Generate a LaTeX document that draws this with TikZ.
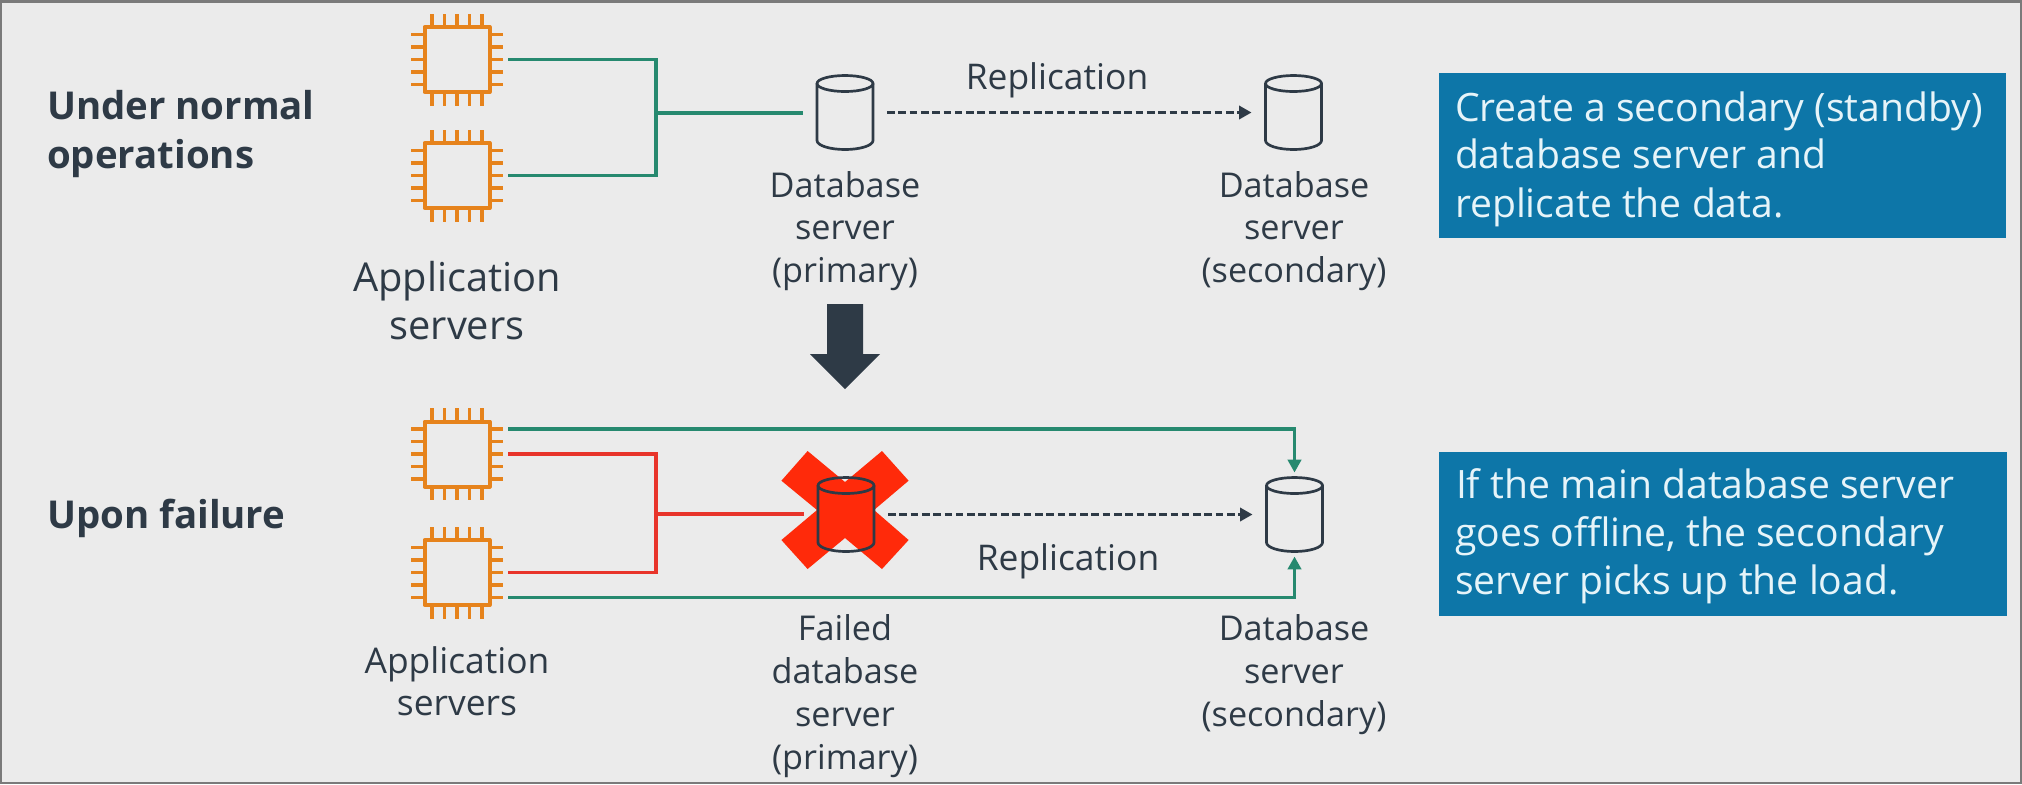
\documentclass[tikz,border=0pt]{standalone}
\usepackage{fontspec}
\setmainfont{Open Sans}
\usetikzlibrary{calc,arrows.meta}
\definecolor{bgc}{HTML}{EBEBEB}
\definecolor{framec}{HTML}{7A7A7A}
\definecolor{inkc}{HTML}{2E3A46}
\definecolor{greenc}{HTML}{26896F}
\definecolor{redc}{HTML}{E8342A}
\definecolor{xred}{HTML}{FF2A0A}
\definecolor{orangec}{HTML}{E6831C}
\definecolor{bluec}{HTML}{0D76A8}
\definecolor{paperc}{HTML}{E6F4F9}
\tikzset{
  x=0.5pt,y=-0.5pt,
  anchorbox/.style={inner sep=0pt,outer sep=0pt,minimum size=#1,draw=none,fill=none},
  chipline/.style={draw=orangec,line width=2pt,line join=round},
  pinline/.style={draw=orangec,line width=1.9pt},
  cylline/.style={draw=inkc,line width=1.35pt},
  gline/.style={draw=greenc,line width=1.6pt,line join=miter},
  rline/.style={draw=redc,line width=1.6pt,line join=miter},
  trunkline/.style={line width=2pt},
  garrow/.style={gline,-{Triangle[length=6.4pt,width=6.6pt]}},
  dashline/.style={draw=inkc,line width=1.4pt,dash pattern=on 3.8pt off 1.85pt,-{Triangle[length=6.2pt,width=6.6pt]}},
  lab/.style={inner sep=0pt,outer sep=0pt,text=inkc,align=center,anchor=base},
  big/.style={font=\fontsize{19.9}{24}\selectfont},
  mid/.style={font=\fontsize{17.1}{21.5}\selectfont},
  midb/.style={font=\fontsize{17.7}{21.5}\selectfont},
  head/.style={inner sep=0pt,outer sep=0pt,text=inkc,align=left,anchor=base west,font=\fontsize{19.2}{25}\selectfont\bfseries},
  notetext/.style={inner sep=0pt,outer sep=0pt,text=paperc,align=left,anchor=base west,font=\fontsize{19.55}{24}\selectfont},
}
\newcommand{\chipdraw}[1]{%
  \draw[chipline] ($(#1)+(-32.5,-32.5)$) rectangle ($(#1)+(32.5,32.5)$);
  \foreach \o in {-25,-12.5,0,12.5,25}{
    \draw[pinline] ($(#1)+(\o,-33)$) -- ($(#1)+(\o,-46)$);
    \draw[pinline] ($(#1)+(\o,33)$) -- ($(#1)+(\o,46)$);
    \draw[pinline] ($(#1)+(-33,\o)$) -- ($(#1)+(-46,\o)$);
    \draw[pinline] ($(#1)+(33,\o)$) -- ($(#1)+(46,\o)$);
  }}
\newcommand{\cyldraw}[1]{%
  \draw[cylline,line join=round] ($(#1)+(-28,-29)$) -- ($(#1)+(-28,28)$)
     arc[start angle=180,end angle=360,x radius=14pt,y radius=4.5pt] -- ($(#1)+(28,-29)$);
  \draw[cylline] ($(#1)+(0,-29)$) ellipse[x radius=14pt,y radius=4pt];}
\begin{document}
\begin{tikzpicture}
\useasboundingbox (0,0) rectangle (2022,784);
\fill[framec] (0,0) rectangle (2022,784);
\fill[bgc] (2,3) rectangle (2020,782);
% anchors
\node[anchorbox=51pt] (c1) at (457,59.5) {};
\node[anchorbox=51pt] (c2) at (457,175.5) {};
\node[anchorbox=51pt] (c3) at (457,454) {};
\node[anchorbox=51pt] (c4) at (457,572.5) {};
\node[anchorbox=42pt] (db1) at (845,112.5) {};
\node[anchorbox=42pt] (db2) at (1293.5,112.5) {};
\node[anchorbox=42pt] (db3) at (846,514.5) {};
\node[anchorbox=42pt] (db4) at (1294.5,514.5) {};
\coordinate (j1) at (656,113);
\coordinate (j2) at (656,514);
\chipdraw{c1}\chipdraw{c2}\chipdraw{c3}\chipdraw{c4}
% upper connectors
\draw[gline] (c1.east) -| (j1);
\draw[gline] (c2.east) -| (j1);
\draw[gline,trunkline] (j1) -- (db1.west |- j1);
\draw[dashline] (db1.east) -- (db2.west);
\cyldraw{db1}\cyldraw{db2}
% transition arrow
\fill[inkc] (827,304) -- (863,304) -- (863,354) -- (880,354) -- (845,389) -- (810,354) -- (827,354) -- cycle;
% lower connectors
\fill[xred] (807.6,451) -- (845,482) -- (882,451) -- (908.6,480.7) -- (874,510) -- (908.6,540) -- (882,569) -- (845,538) -- (807.6,569) -- (781.4,540) -- (817,510) -- (781.4,480.7) -- cycle;
\draw[rline] ($(c3.east)$) -| (j2);
\draw[rline] ($(c4.east)$) -| (j2);
\draw[rline,trunkline] (j2) -- (db3.west |- j2);
\draw[garrow] ($(c3.east)+(0,-25)$) -| (db4.north);
\draw[garrow] ($(c4.east)+(0,25)$) -| (db4.south);
\draw[dashline] (db3.east) -- (db4.west);
\cyldraw{db3}\cyldraw{db4}
% labels
\node[lab,big] (t1) at (457,291) {Application};
\node[lab,big] (t2) at (457,339) {servers};
\node[lab,mid] (t3) at (845,197) {Database};
\node[lab,mid] (t4) at (845,239) {server};
\node[lab,mid] (t5) at (845,282) {(primary)};
\node[lab,mid] (t6) at (1294,197) {Database};
\node[lab,mid] (t7) at (1294,239) {server};
\node[lab,mid] (t8) at (1294,282) {(secondary)};
\node[lab,midb] (t9) at (1057,89) {Replication};
\node[lab,midb] (t10) at (1068,570) {Replication};
\node[lab,mid] (t11) at (845,640) {Failed};
\node[lab,mid] (t12) at (845,683) {database};
\node[lab,mid] (t13) at (845,726) {server};
\node[lab,mid] (t14) at (845,769) {(primary)};
\node[lab,mid] (t15) at (1294,640) {Database};
\node[lab,mid] (t16) at (1294,683) {server};
\node[lab,mid] (t17) at (1294,726) {(secondary)};
\node[lab,midb] (t18) at (457,673) {Application};
\node[lab,midb] (t19) at (457,715) {servers};
\node[head] (h1) at (47,119) {Under normal};
\node[head] (h2) at (47,168) {operations};
\node[head] (h3) at (47,528) {Upon failure};
% notes
\fill[bluec] (1439,73) rectangle (2005.5,238);
\fill[bluec] (1439,452) rectangle (2006.5,616);
\node[notetext] (n1) at (1455,121) {Create a secondary (standby)};
\node[notetext] (n2) at (1455,168) {database server and};
\node[notetext] (n3) at (1455,217) {replicate the data.};
\node[notetext] (n4) at (1456,498) {If the main database server};
\node[notetext] (n5) at (1455,546) {goes offline, the secondary};
\node[notetext] (n6) at (1455,594) {server picks up the load.};
\end{tikzpicture}
\end{document}
